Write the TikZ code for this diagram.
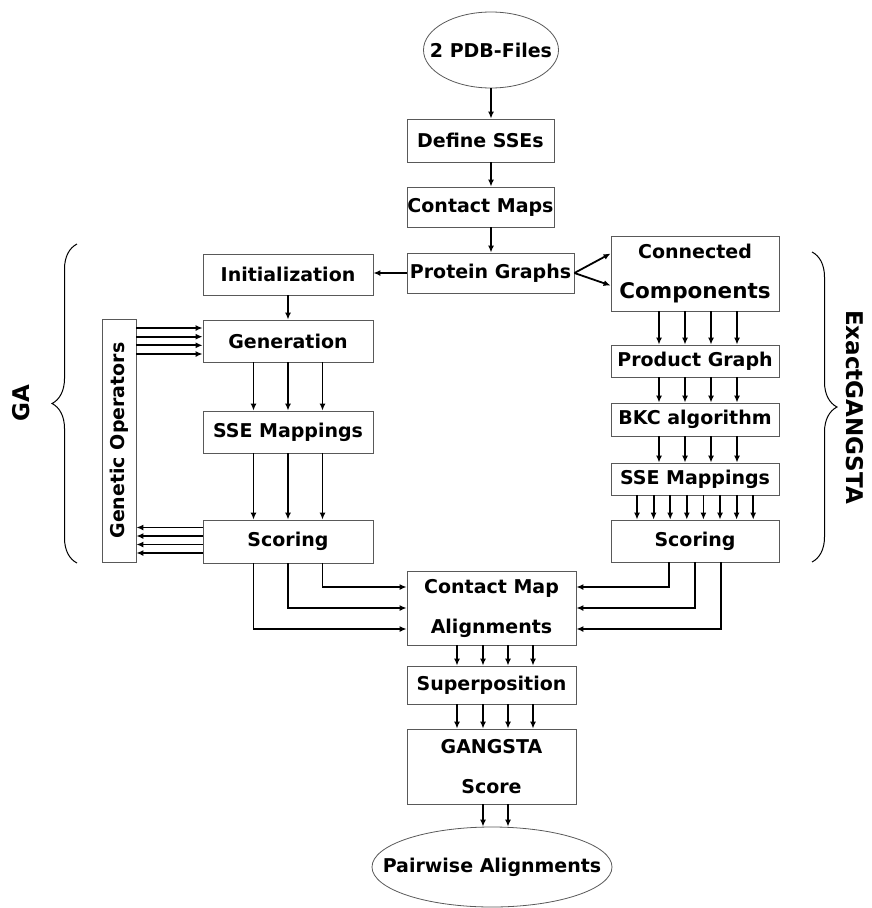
\documentclass[tikz,border=0pt]{standalone}
\usepackage{fontspec}
\setmainfont{DejaVu Sans}
\usetikzlibrary{arrows.meta,shapes.geometric,decorations.pathreplacing}
\tikzset{%
  >={Latex[width=6pt,length=7pt]},
  % Specifications for style of nodes:
        base/.style = {rectangle, draw=black!65, line width=0.8pt,
                       inner sep=0pt, align=center,
                       font=\bfseries\fontsize{19pt}{40pt}\selectfont},
         box/.style = {base, minimum width=147pt, minimum height=42pt},
     sidebox/.style = {base, minimum width=170pt, minimum height=42pt},
    exactbox/.style = {base, minimum width=168pt, minimum height=33pt},
        term/.style = {base, ellipse, inner xsep=-60pt},
   grouptext/.style = {font=\bfseries\fontsize{23pt}{26pt}\selectfont},
        flow/.style = {->, line width=1.8pt},
       curly/.style = {decorate, decoration={brace, amplitude=25pt},
                       line width=1pt}
}

\begin{document}
\begin{tikzpicture}[x=1pt, y=-1pt]
  \useasboundingbox (0,0) rectangle (872,908);
  % Main column
  \node (pdb)       [term, minimum width=135pt, minimum height=76pt] at (491,50) {2 PDB-Files};
  \node (ssedef)    [box, minimum height=43pt] at (480.5,140.5) {Define SSEs};
  \node (cmaps)     [box, minimum height=40pt] at (480.5,207) {Contact Maps};
  \node (pgraph)    [box, minimum width=167pt, minimum height=40pt] at (490.5,273) {Protein Graphs};

  % GA column
  \node (init)      [sidebox, minimum height=41pt] at (288,274.5) {Initialization};
  \node (gen)       [sidebox] at (288,341) {Generation};
  \node (ssega)     [sidebox] at (288,432) {SSE Mappings};
  \node (scorega)   [sidebox, minimum height=43pt] at (288,541.5) {Scoring};
  \node (genop)     [base, rotate=90, minimum width=243pt, minimum height=34pt] at (119,440.5) {Genetic Operators};

  % ExactGANGSTA column
  \node (conncomp)  [exactbox, minimum height=75pt] at (695,273.5) {Connected\\{\fontsize{21.5pt}{40pt}\selectfont Components}};
  \node (prodgraph) [exactbox, minimum height=32pt] at (695,361) {Product Graph};
  \node (bkc)       [exactbox] at (695,419.5) {BKC algorithm};
  \node (sseex)     [exactbox, minimum height=32pt] at (695,479) {SSE Mappings};
  \node (scoreex)   [exactbox, minimum height=42pt] at (695,541) {Scoring};

  % Result part
  \node (cmalign)   [box, minimum width=169pt, minimum height=74pt] at (491.5,608) {Contact Map\\Alignments};
  \node (superpos)  [box, minimum width=169pt, minimum height=38pt] at (491.5,685) {Superposition};
  \node (gscore)    [box, minimum width=169pt, minimum height=75pt] at (491.5,766.5) {GANGSTA\\Score};
  \node (pairwise)  [term, minimum width=240pt, minimum height=80pt] at (492,867) {Pairwise Alignments};

  % Groups
  \node (ga)        [grouptext, rotate=90] at (21,403) {GA};
  \node (exact)     [grouptext, rotate=-90] at (855,407) {ExactGANGSTA};
  \draw[curly] (77,563) -- (77,244);
  \draw[curly] (812,252) -- (812,562);

  \draw[flow] (pdb) -- (pdb |- ssedef.north);
  \draw[flow] (ssedef.south -| pdb) -- (cmaps.north -| pdb);
  \draw[flow] (cmaps.south -| pdb) -- (pgraph.north -| pdb);
  \draw[flow] (pgraph.west) -- (pgraph.west -| init.east);
  \draw[flow] (pgraph.east) -- ([yshift=20pt]conncomp.west);
  \draw[flow] (pgraph.east) -- ([yshift=-12pt]conncomp.west);

  \draw[flow] (init) -- (gen);
  \foreach \dx in {-34.5,0,34.5} {
    \draw[flow] ([xshift=\dx pt]gen.south) -- ([xshift=\dx pt]ssega.north);
    \draw[flow] ([xshift=\dx pt]ssega.south) -- ([xshift=\dx pt]scorega.north);
  }
  \foreach \dy in {13,4.3,-4.3,-13}
    \draw[flow] ([yshift=\dy pt]gen.west -| genop.south) -- ([yshift=\dy pt]gen.west);
  \foreach \dy in {14,5.5,-3,-11.5}
    \draw[flow] ([yshift=\dy pt]scorega.west) -- ([yshift=\dy pt]scorega.west -| genop.south);

  \foreach \dx in {-36,-10,16,42} {
    \draw[flow] ([xshift=\dx pt]conncomp.south) -- ([xshift=\dx pt]prodgraph.north);
    \draw[flow] ([xshift=\dx pt]prodgraph.south) -- ([xshift=\dx pt]bkc.north);
    \draw[flow] ([xshift=\dx pt]bkc.south) -- ([xshift=\dx pt]sseex.north);
  }
  \foreach \i [evaluate=\i as \dx using -58+16.6*\i] in {0,...,7}
    \draw[flow] ([xshift=\dx pt]sseex.south) -- ([xshift=\dx pt]scoreex.north);

  \foreach \dx/\dy in {34.5/21,0/0,-34.5/-21}
    \draw[flow] ([xshift=\dx pt]scorega.south) |- ([yshift=\dy pt]cmalign.west);
  \foreach \dx/\dy in {-26/21,0/0,26/-21}
    \draw[flow] ([xshift=\dx pt]scoreex.south) |- ([yshift=\dy pt]cmalign.east);

  \foreach \dx in {-34.5,-8.5,16.5,41.5} {
    \draw[flow] ([xshift=\dx pt]cmalign.south) -- ([xshift=\dx pt]superpos.north);
    \draw[flow] ([xshift=\dx pt]superpos.south) -- ([xshift=\dx pt]gscore.north);
  }
  \foreach \dx in {-8.5,16.5}
    \draw[flow] ([xshift=\dx pt]gscore.south) -- ([xshift=\dx pt]gscore.south |- pairwise.north);
\end{tikzpicture}
\end{document}
